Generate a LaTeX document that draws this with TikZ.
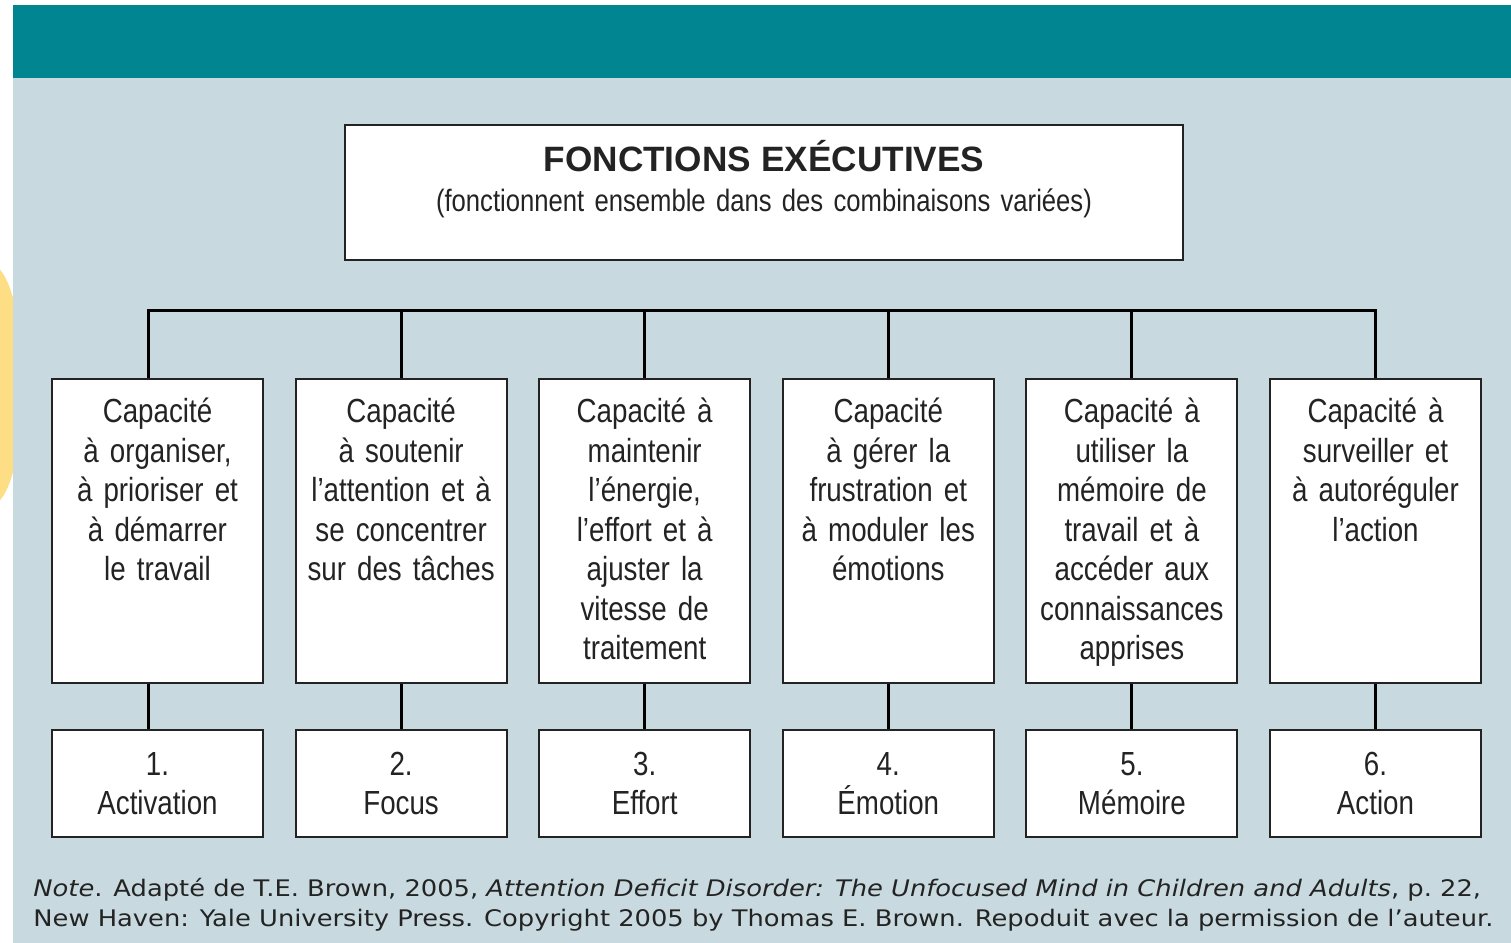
\documentclass[tikz,border=0pt]{standalone}
\usepackage{fontspec}
\usetikzlibrary{positioning}
\newfontfamily\boxfont[FakeStretch=0.83]{Liberation Sans}
\newfontfamily\titlefont{Liberation Sans}
\newfontfamily\notefont[FakeStretch=1.13]{DejaVu Sans}
\definecolor{bandteal}{RGB}{0,133,145}
\definecolor{panelgrey}{RGB}{200,218,223}
\definecolor{tabyellow}{RGB}{253,222,133}
\definecolor{inkgrey}{RGB}{35,35,35}
\begin{document}
\begin{tikzpicture}[x=0.5pt, y=-0.5pt,
	upbox/.style={draw=inkgrey, line width=1pt, fill=white, anchor=north,
		minimum width=105.5pt, text width=100pt, align=center, inner xsep=2.75pt,
		inner ysep=6.85pt, text height=15pt, text depth=123.3pt, text=inkgrey,
		font=\boxfont\fontsize{16.7}{19.75}\selectfont},
	lowbox/.style={draw=inkgrey, line width=1pt, fill=white,
		minimum width=105.5pt, minimum height=53.5pt, text width=100pt, align=center,
		inner xsep=2.75pt, text height=14pt, text depth=22.5pt, text=inkgrey,
		font=\boxfont\fontsize{16.7}{19.75}\selectfont},
	link/.style={line width=1.5pt, black},
	note/.style={inner sep=0pt, text=inkgrey, font=\notefont\fontsize{11.4}{14}\selectfont}]
	
	\useasboundingbox (0,0) rectangle (1511,943);
	
	% page and panel
	\fill[white] (0,0) rectangle (1511,943);
	\fill[tabyellow] (-9,385) ellipse [x radius=16pt, y radius=60pt];
	\fill[panelgrey] (13,5) rectangle (1511,943);
	\fill[bandteal] (13,5) rectangle (1511,78);
	
	% title
	\node[draw=inkgrey, line width=1pt, fill=white, anchor=north, minimum width=419pt,
		text width=410pt, align=center, inner ysep=6pt, text height=17pt, text depth=38.5pt,
		text=inkgrey, font=\boxfont\fontsize{15.45}{20}\selectfont] (fe) at (764,124)
		{{\titlefont\bfseries\fontsize{17.6}{20}\selectfont FONCTIONS EXÉCUTIVES}\\
		(fonctionnent ensemble dans des combinaisons variées)};
	
	% abilities
	\node[upbox] (u1) at (157.5,378) {Capacité\\ à organiser,\\ à prioriser et\\ à démarrer\\ le travail};
	\node[upbox, right=15.3pt of u1.north east, anchor=north west] (u2) {Capacité\\ à soutenir\\ l’attention et à\\ se concentrer\\ sur des tâches};
	\node[upbox, right=15.3pt of u2.north east, anchor=north west] (u3) {Capacité à\\ maintenir\\ l’énergie,\\ l’effort et à\\ ajuster la\\ vitesse de\\ traitement};
	\node[upbox, right=15.3pt of u3.north east, anchor=north west] (u4) {Capacité\\ à gérer la\\ frustration et\\ à moduler les\\ émotions};
	\node[upbox, right=15.3pt of u4.north east, anchor=north west] (u5) {Capacité à\\ utiliser la\\ mémoire de\\ travail et à\\ accéder aux\\ connaissances\\ apprises};
	\node[upbox, right=15.3pt of u5.north east, anchor=north west] (u6) {Capacité à\\ surveiller et\\ à autoréguler\\ l’action};
	
	% functions
	\node[lowbox, below=22.5pt of u1] (l1) {1.\\ Activation};
	\node[lowbox, below=22.5pt of u2] (l2) {2.\\ Focus};
	\node[lowbox, below=22.5pt of u3] (l3) {3.\\ Effort};
	\node[lowbox, below=22.5pt of u4] (l4) {4.\\ Émotion};
	\node[lowbox, below=22.5pt of u5] (l5) {5.\\ Mémoire};
	\node[lowbox, below=22.5pt of u6] (l6) {6.\\ Action};
	
	% connectors
	\coordinate (bus) at (764,310);
	\draw[link] ([xshift=-4.5pt]u1.north) |- (bus) -| (u6.north);
	\draw[link] (u2.north) -- (u2.north |- bus);
	\draw[link] (u3.north) -- (u3.north |- bus);
	\draw[link] (u4.north) -- (u4.north |- bus);
	\draw[link] (u5.north) -- (u5.north |- bus);
	
	\draw[link] ([xshift=-4.5pt]u1.south) -- ([xshift=-4.5pt]l1.north);
	\draw[link] (u2) -- (l2);
	\draw[link] (u3) -- (l3);
	\draw[link] (u4) -- (l4);
	\draw[link] (u5) -- (l5);
	\draw[link] (u6) -- (l6);
	
	% source
	\node[note, anchor=base west] (src1) at (33,896) {\textit{Note}. Adapté de T.E. Brown, 2005, \textit{Attention Deficit Disorder: The Unfocused Mind in Children and Adults}, p.~22,};
	\node[note, anchor=base west] (src2) at (33,926) {New Haven: Yale University Press. Copyright 2005 by Thomas E. Brown. Repoduit avec la permission de l’auteur.};
\end{tikzpicture}
\end{document}
